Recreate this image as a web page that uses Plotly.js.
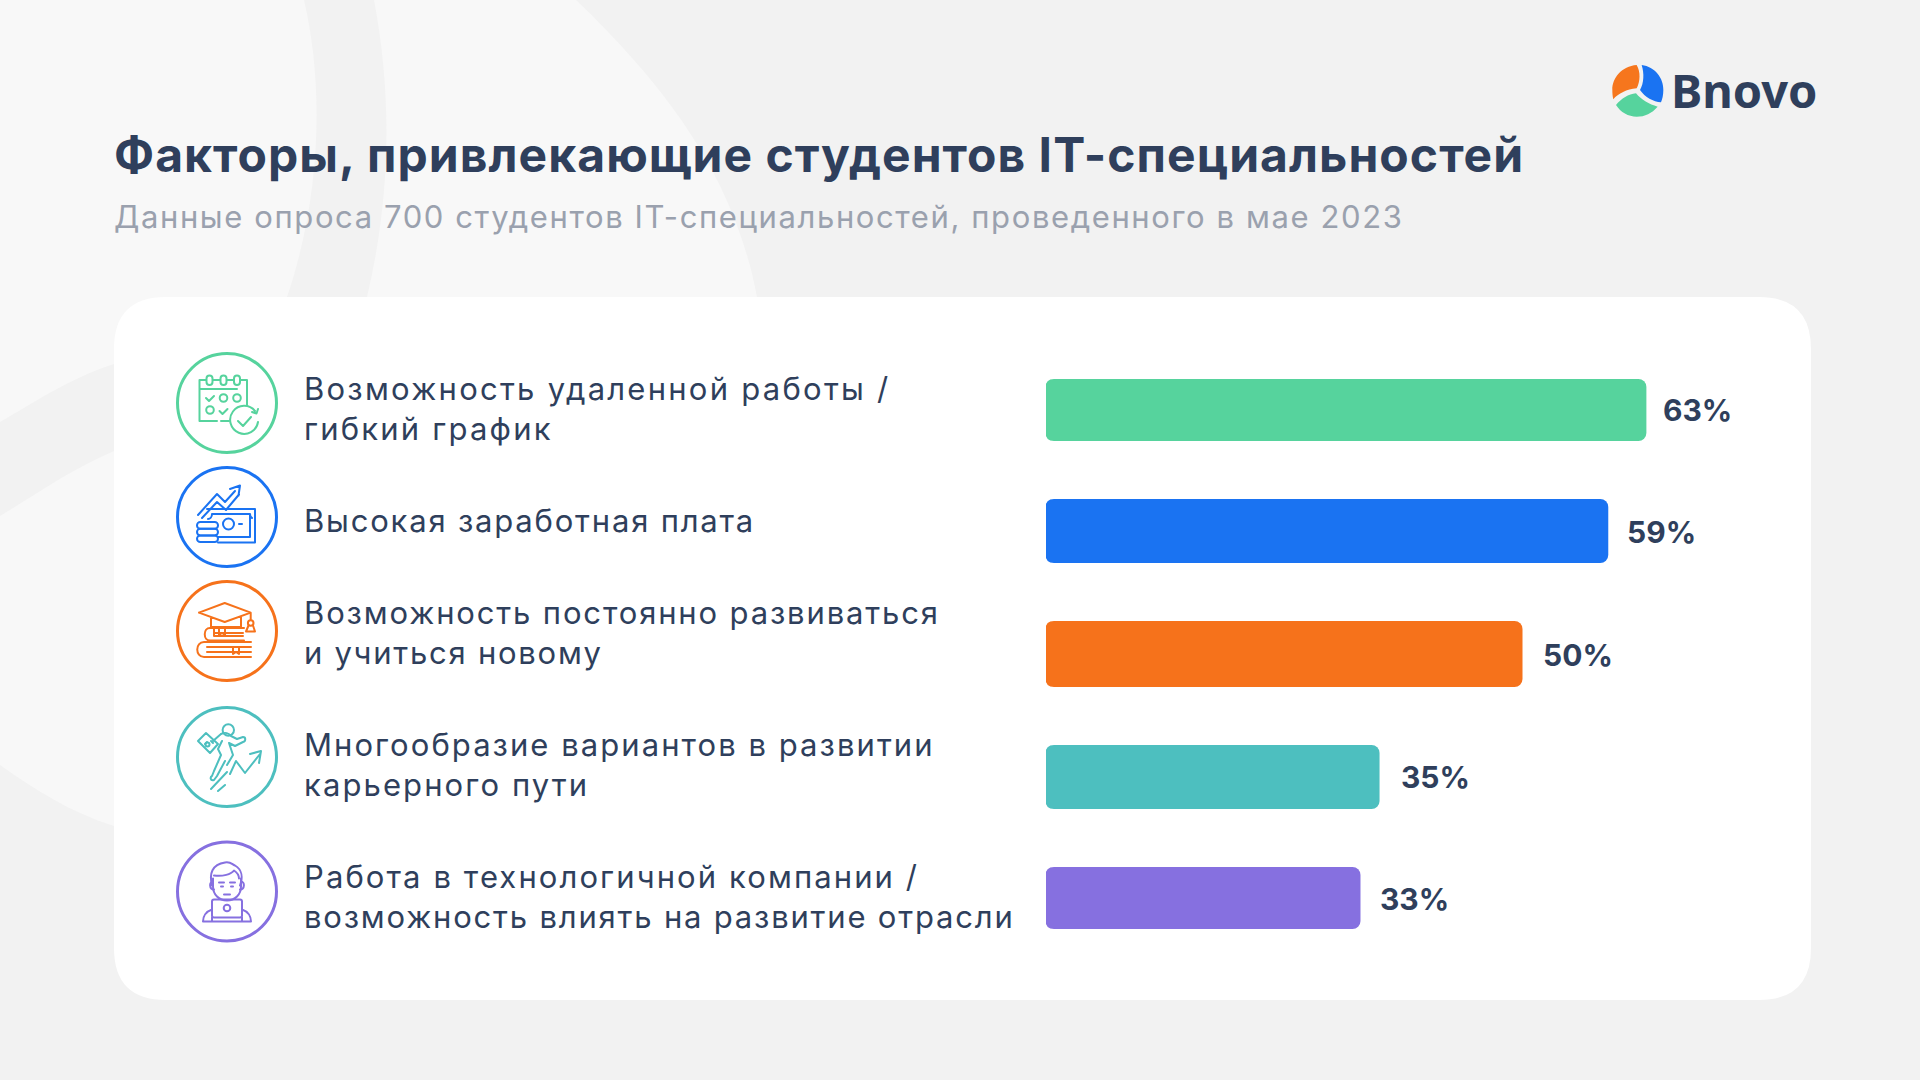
<!DOCTYPE html>
<html><head><meta charset="utf-8">
<script src="https://cdn.plot.ly/plotly-3.0.1.min.js"></script>
<style>
html,body{margin:0;padding:0;background:#f2f2f2;overflow:hidden}
#chart{width:1920px;height:1080px}
</style></head><body><div id="chart"></div>
<script>
const categories = [
  "Возможность удаленной работы /<br>гибкий график",
  "Высокая заработная плата",
  "Возможность постоянно развиваться<br>и учиться новому",
  "Многообразие вариантов в развитии<br>карьерного пути",
  "Работа в технологичной компании /<br>возможность влиять на развитие отрасли"
];
const values = [63, 59, 50, 35, 33];
const valueLabels = ["63%", "59%", "50%", "35%", "33%"];
const barColors = ["#56d39d", "#1a73f2", "#f6721b", "#4dbfbf", "#8670e0"];
const barHeights = [62, 64, 66, 64, 62];
const barShift = [0, -1, 0, 1, 0];
const titleText = "Факторы, привлекающие студентов IT-специальностей";
const subtitleText = "Данные опроса 700 студентов IT-специальностей, проведенного в мае 2023";
const brandText = "Bnovo";

const W = 1920, H = 1080, ROW = 122, BAR_X0 = 1046, ROW_Y0 = 410, CORNER = 8;
const fx = x => x / W, fy = y => 1 - y / H;
const ink = "#2f3f5c";
const bodyFont = "Inter, 'Noto Sans', sans-serif";

function path(cmds) { // pixel-space path -> paper-space path
  return cmds.replace(/(-?\d+\.?\d*) (-?\d+\.?\d*)/g, (m, a, b) => fx(+a).toFixed(5) + "," + fy(+b).toFixed(5));
}
const bgShape = d => ({type:"path", xref:"paper", yref:"paper", layer:"below", path:path(d), fillcolor:"#f8f8f8", line:{width:0}});
const r = 52, cL = 114, cR = 1811, cT = 297, cB = 1000;
const shapes = [
  bgShape("M0 0 L304 0 C325 90 320 200 287 297 L200 390 L114 364 C70 378 35 402 0 422 Z"),
  bgShape("M374 0 C393 100 390 200 367 297 L367 330 L760 330 L757 297 C735 180 670 90 576 0 Z"),
  bgShape("M0 516 C35 495 70 470 114 451 L130 451 L130 826 L114 826 C70 812 35 790 0 765 Z"),
  {type:"path", xref:"paper", yref:"paper", layer:"below", fillcolor:"#ffffff", line:{width:0},
   path:path(`M${cL+r} ${cT} L${cR-r} ${cT} Q${cR} ${cT} ${cR} ${cT+r} L${cR} ${cB-r} Q${cR} ${cB} ${cR-r} ${cB} L${cL+r} ${cB} Q${cL} ${cB} ${cL} ${cB-r} L${cL} ${cT+r} Q${cL} ${cT} ${cL+r} ${cT} Z`)}
];
// Plotly rounds only the far end of a bar: soften the base corners with small card-coloured masks
barHeights.forEach((h, i) => {
  const top = ROW_Y0 + ROW*i + barShift[i] - h/2, bot = top + h, x = BAR_X0 - 0.5, c = CORNER + 0.5;
  [[top, 1], [bot, -1]].forEach(([y, s]) => shapes.push({
    type:"path", xref:"paper", yref:"paper", layer:"above", fillcolor:"#ffffff", line:{width:0},
    path:path(`M${x} ${y} L${x+c} ${y} Q${x} ${y} ${x} ${y+s*c} Z`)
  }));
});

const svgUri = (inner, w, h, vw, vh) => "data:image/svg+xml," + encodeURIComponent(
  `<svg xmlns="http://www.w3.org/2000/svg" width="${w}" height="${h}" viewBox="0 0 ${vw||w} ${vh||h}">${inner}</svg>`);

const iconBodies = [
 // calendar
 `<path d="M39 37H32.5V78H50M54 78H62M74 37H80V62M32.5 46H70M46 37H53M60 37H67"/>
  <rect x="39.5" y="32.5" width="6" height="9.5" rx="3"/><rect x="53.5" y="32.5" width="6" height="9.5" rx="3"/><rect x="67" y="32.5" width="6" height="9.5" rx="3"/>
  <path d="M39 55l3 3 5-5M52.5 68l3 3 5-5"/><circle cx="56.5" cy="55" r="3.8"/><circle cx="70" cy="55" r="3.8"/><circle cx="43" cy="67" r="3.8"/>
  <path d="M88 68A14 14 0 1 0 91 79M71 78l5 5 8-9M85 69l4.500 1.500 1.500-4.500"/>`,
 // money
 `<path d="M31 58L50 37 58 45 68 34M35 61L50 45 59 53 72 37.500M63 32L73 28.500 71.500 38.500"/>
  <path d="M40 52H88V85.500H51M45 57H83V80H51M45 57C45 60 43 62 41 62M83 57C83 60 85 61 85 61"/>
  <circle cx="61.500" cy="67" r="5.500"/><path d="M72 67H75"/>
  <rect x="30" y="65" width="21" height="6.700" rx="3.300"/><rect x="30" y="71.700" width="21" height="6.700" rx="3.300"/><rect x="30" y="78.400" width="21" height="6.700" rx="3.300"/>`,
 // books and cap
 `<path d="M32 41.600L57.700 32 83.700 41.600 57.700 51 32 41.600M44 46V56H74V46M83.700 42V49"/>
  <circle cx="83.700" cy="52" r="2.800"/><path d="M81.500 54.500L79 60.500H88L86 54.500"/>
  <path d="M77 57H43C36 57 36 69.500 43 69.500H77M47 62H76M47 65H76M47 57V65"/>
  <path d="M52 57V64L55 62 58 64V57"/>
  <path d="M84 71H37C28 71 28 86 37 86H84M40 76H84M40 81H84"/>
  <path d="M66 76V83L69 81 72 83V76"/>`,
 // runner with arrow
 `<circle cx="61.300" cy="33" r="5.700"/>
  <path d="M54 37C58 35 62 36 64 39L70 42 76 40C79 40 79 44 76 45L68 49 62 46M54 37L46 44M55 44L51 52 54 58 47 74 45 79C43 80 43 84 47 83L50 79 58 64M62 46L66 58 60 68"/>
  <path d="M39 36L31 44 43 56 51 47ZM38 47L40 45M44 44L46 46"/><circle cx="40.500" cy="47.500" r="2"/>
  <path d="M44 92L60 75M63 77L69 64 78 76 93 57M83 57L94 54 92 66M51 94L58 88"/>`,
 // person with laptop
 `<path d="M45 54C42 42 45 33 58 31 64 30 65 33 68 34 75 38 76 46 73 54M47 44C56 45 64 43 67 39 70 41 72 44 72 47"/>
  <path d="M46 47V55C46 63 52 69 60 69S74 63 74 55V47"/>
  <path d="M46 50C42 50 42 58 47 58M74 50C78 50 78 58 73 58M52 51H57M63 51H68M54 55H56M64 55H66M57 63H63"/>
  <rect x="45" y="68" width="30" height="18" rx="2"/><circle cx="60" cy="76.500" r="3.300"/>
  <path d="M36 90H84M36 90C36 85 39 80 45 78M84 90C84 85 81 80 75 78M45 86V90M75 86V90"/>`
];
const iconCenters = [403, 517, 631, 757, 891.5];
const iconX = 227;
const images = categories.map((_, i) => ({
  source: svgUri(`<circle cx="60" cy="60" r="49.500" fill="none" stroke="${barColors[i]}" stroke-width="3"/><g fill="none" stroke="${barColors[i]}" stroke-width="2" stroke-linecap="round" stroke-linejoin="round">${iconBodies[i]}</g>`, 120, 120),
  xref:"paper", yref:"paper", x:fx(iconX-60), y:fy(iconCenters[i]-60), sizex:120/W, sizey:120/H,
  xanchor:"left", yanchor:"top", sizing:"stretch", layer:"above"
}));
images.push({
  source: svgUri(`<path fill="#f6761d" d="M170 75C125 78 96 115 97 150C97 160 98 170 100 178C115 160 140 148 170 145C181 125 182 95 170 75Z"/>
  <path fill="#1a73f2" d="M185 75C225 80 251 115 250 150C250 165 247 178 243 187C220 185 195 172 180 150C192 130 193 100 185 75Z"/>
  <path fill="#56d39d" d="M108 195C125 175 145 163 168 160C185 180 207 193 233 200C215 220 195 230 170 230C145 230 122 217 108 195Z"/>`, 260, 100, 780, 300),
  xref:"paper", yref:"paper", x:fx(1580), y:fy(40), sizex:260/W, sizey:100/H, xanchor:"left", yanchor:"top", sizing:"stretch", layer:"above"
});

const labelY = [408.5, 520.5, 632.5, 764.5, 896.5];
const labelGap = [15, 17, 18, 19, 17.5];
const labelLift = [0, 0, -1, -1, -1];

const ann = (text, x, y, size, color, extra) => Object.assign({
  text, xref:"paper", yref:"paper", x:fx(x), y:fy(y), xanchor:"left", yanchor:"middle", align:"left", showarrow:false,
  font:{family:bodyFont, size, color}
}, extra||{});

const annotations = [
  ann(titleText, 111.5, 155, 48, ink, {font:{family:bodyFont, size:48, color:ink, weight:700}}),
  ann(subtitleText, 111.5, 216.5, 31, "#9aa1ae"),
  ann(brandText, 1669, 90, 47, ink, {font:{family:"'Noto Sans', sans-serif", size:47, color:ink, weight:700}}),
  ...categories.map((c, i) => ann(c, 301.5, labelY[i], 31, ink)),
  ...values.map((v, i) => ({
    text: valueLabels[i], xref:"x", yref:"y", x:v, y:categories[i], xanchor:"left", yanchor:"middle", showarrow:false,
    xshift:labelGap[i], yshift:labelLift[i], font:{family:bodyFont, size:30, color:ink, weight:700}
  }))
];
// letter-spacing by annotation (header) and by text line (category labels)
const headerSpacing = [1.05, 1.6];
const lineSpacing = [[2.25, 2.2], [1.8], [1.85, 1.75], [2.05, 2.1], [2.1, 1.8]];

const data = [{
  type:"bar", orientation:"h", y:categories, x:values,
  width:barHeights.map(h => h / ROW),
  offset:barHeights.map((h, i) => (barShift[i] - h/2) / ROW),
  marker:{color:barColors, line:{width:0}},
  hoverinfo:"x+y", showlegend:false
}];

const layout = {
  width:W, height:H, margin:{l:0,r:0,t:0,b:0,pad:0}, autosize:false,
  paper_bgcolor:"#f2f2f2", plot_bgcolor:"rgba(0,0,0,0)", showlegend:false,
  barcornerradius:CORNER,
  xaxis:{domain:[fx(BAR_X0), fx(BAR_X0 + 80*9.53)], range:[0,80], visible:false, fixedrange:true},
  yaxis:{domain:[fy(ROW_Y0 + 4.5*ROW), fy(ROW_Y0 - 0.5*ROW)], type:"category", categoryorder:"array", categoryarray:categories,
         range:[4.5,-0.5], visible:false, fixedrange:true},
  shapes, images, annotations
};
Plotly.newPlot("chart", data, layout, {displayModeBar:false, responsive:false}).then(() => {
  const texts = document.querySelectorAll("#chart .annotation-text");
  headerSpacing.forEach((s, i) => { texts[i].style.letterSpacing = s + "px"; });
  lineSpacing.forEach((lines, i) => {
    const t = texts[3 + i], spans = t.querySelectorAll("tspan.line");
    if (spans.length) spans.forEach((sp, j) => { sp.style.letterSpacing = lines[j] + "px"; });
    else t.style.letterSpacing = lines[0] + "px";
  });
});
</script></body></html>
